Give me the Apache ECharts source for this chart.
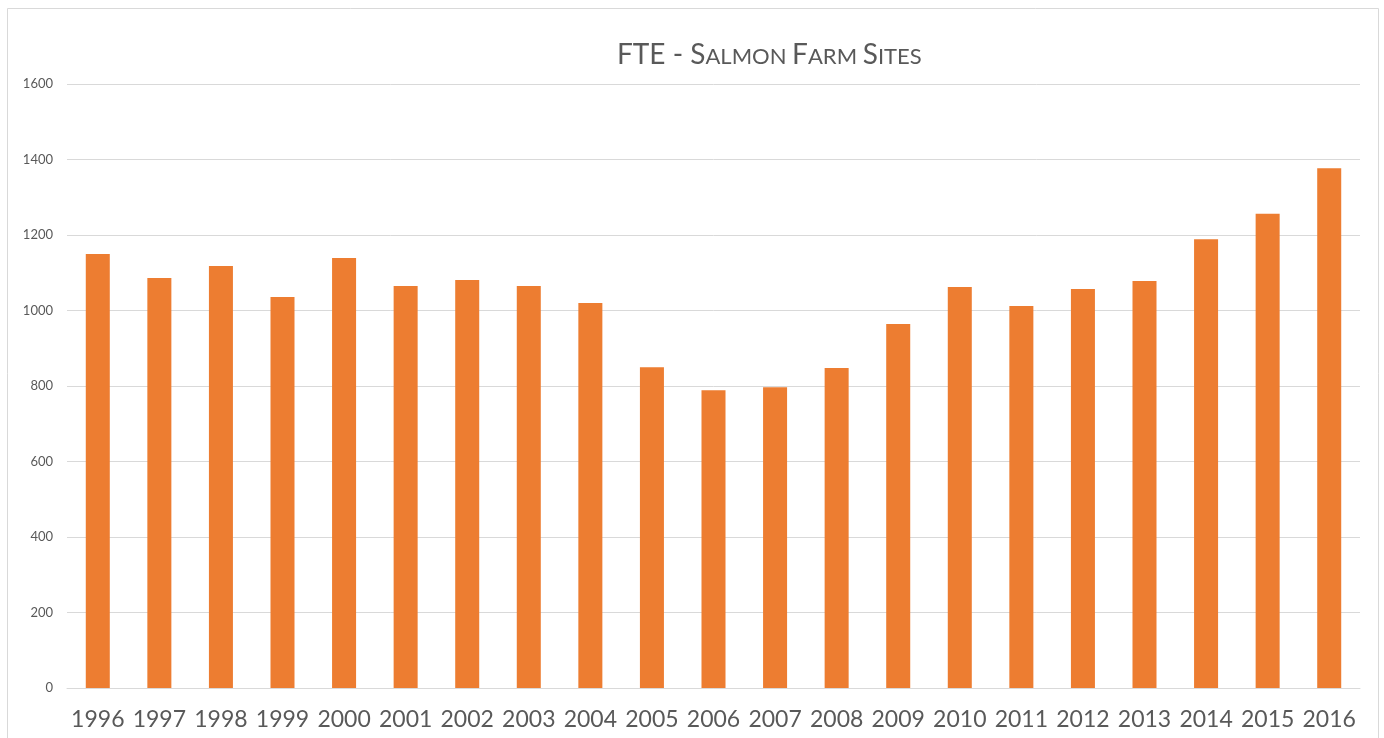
<!DOCTYPE html>
<html>
<head>
<meta charset="utf-8">
<title>FTE - Salmon Farm Sites</title>
<script src="https://cdn.jsdelivr.net/npm/echarts@6/dist/echarts.min.js"></script>
<style>
  html, body { margin: 0; padding: 0; background: #fff; }
  #main { width: 1384px; height: 738px; }
</style>
</head>
<body>
<div id="main"></div>
<script>
// 年份
var years = ['1996', '1997', '1998', '1999', '2000', '2001', '2002', '2003', '2004', '2005', '2006',
    '2007', '2008', '2009', '2010', '2011', '2012', '2013', '2014', '2015', '2016'];
// FTE 数值
var fte = [1150, 1086, 1118, 1036, 1139, 1065, 1081, 1065, 1020, 850, 789,
    797, 848, 964, 1062, 1012, 1057, 1078, 1189, 1256, 1377];
// y 轴刻度
var yTicks = [0, 200, 400, 600, 800, 1000, 1200, 1400, 1600];

var chart = echarts.init(document.getElementById('main'));

// 标题 small caps 的样子
var big = { fontSize: 28, fontWeight: 'normal', color: '#595959', fontFamily: 'Lato', verticalAlign: 'bottom', lineHeight: 32 };
var small = { fontSize: 22, fontWeight: 'normal', color: '#595959', fontFamily: 'Lato', verticalAlign: 'bottom', lineHeight: 32, padding: [0, 0, 1, 0] };

var option = {
    animation: false,
    backgroundColor: '#fff',
    title: {
        text: '{b|FTE - S}{s|ALMON }{b|F}{s|ARM }{b|S}{s|ITES}',
        left: 612,
        top: 32,
        textStyle: {
            fontWeight: 'normal',
            rich: { b: big, s: small }
        }
    },
    graphic: [{
        type: 'rect',
        shape: { x: 7.5, y: 8.5, width: 1371, height: 760 },
        style: { fill: 'none', stroke: '#d9d9d9', lineWidth: 1 },
        silent: true
    }],
    grid: {
        left: 67,
        right: 24,
        top: 84,
        bottom: 50
    },
    xAxis: {
        type: 'category',
        data: years,
        axisTick: { show: false },
        axisLine: { lineStyle: { color: '#d9d9d9', width: 1 } },
        axisLabel: {
            color: '#595959',
            fontSize: 23,
            fontFamily: 'Lato',
            margin: 20,
            interval: 0
        }
    },
    yAxis: {
        type: 'value',
        min: yTicks[0],
        max: yTicks[yTicks.length - 1],
        interval: 200,
        axisLine: { show: false },
        axisTick: { show: false },
        splitLine: { lineStyle: { color: '#d9d9d9', width: 1 } },
        axisLabel: {
            color: '#595959',
            fontSize: 13,
            fontFamily: 'Lato',
            margin: 14,
            formatter: function (v) { return String(v); }
        }
    },
    series: [{
        name: 'FTE',
        type: 'bar',
        data: fte,
        barWidth: '39%',
        itemStyle: { color: '#ED7D31' }
    }]
};

chart.setOption(option);
</script>
</body>
</html>
